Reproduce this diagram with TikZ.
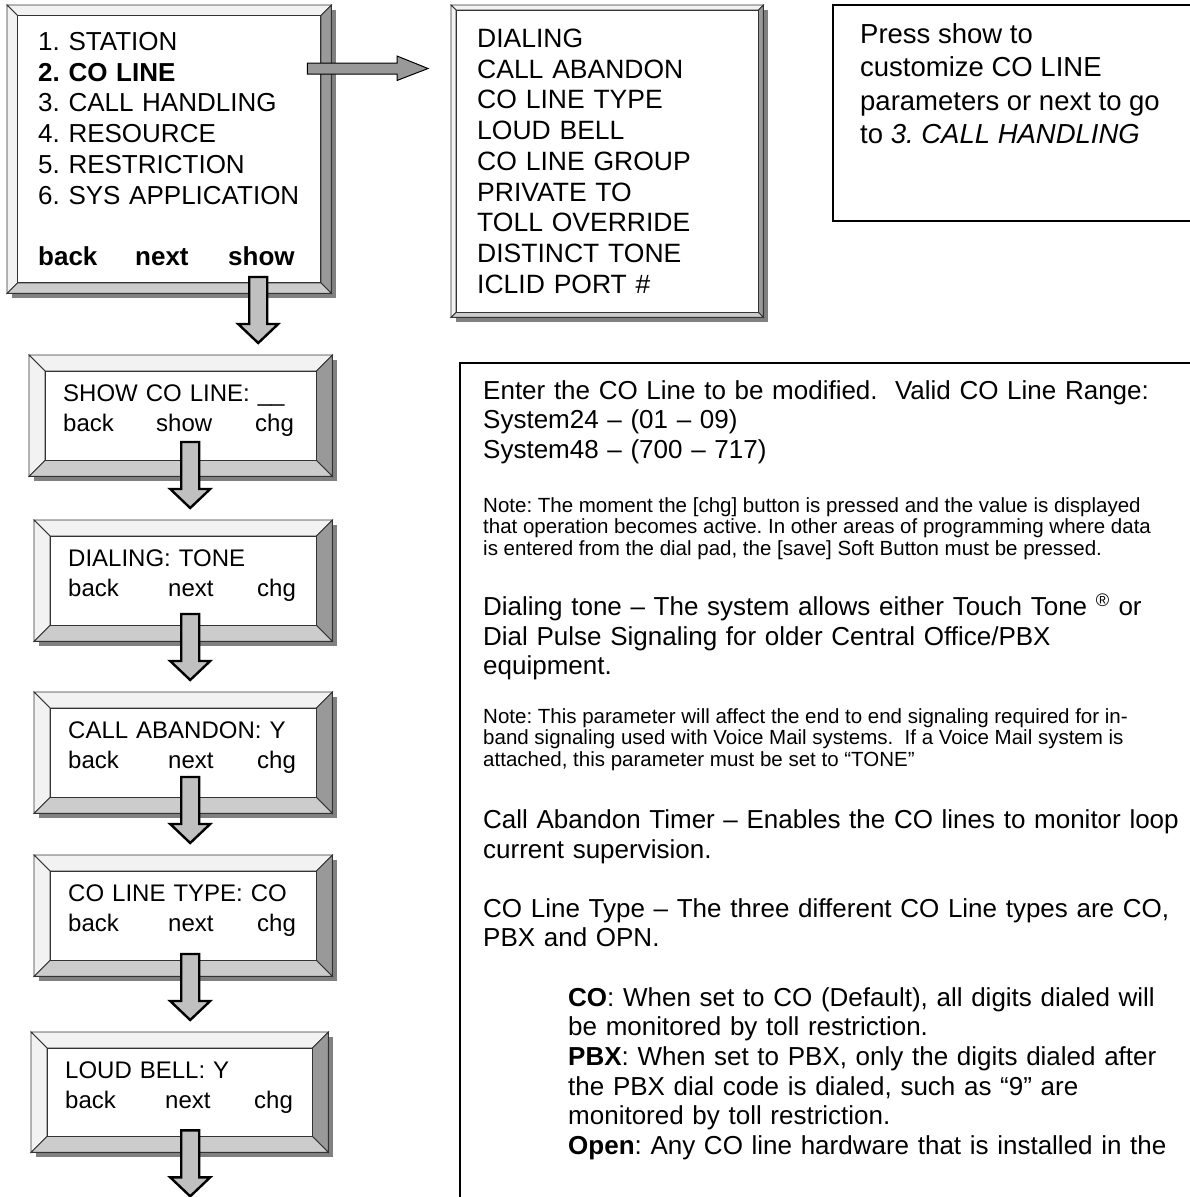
\documentclass[tikz,border=0pt]{standalone}
\usepackage{fontspec}
\setmainfont{Liberation Sans}
\usetikzlibrary{calc,backgrounds}
\frenchspacing
\definecolor{bevellight}{HTML}{F2F2F2}
\definecolor{bevelmid}{HTML}{CCCCCC}
\definecolor{beveldark}{HTML}{999999}
\definecolor{shadowgray}{HTML}{808080}
\definecolor{arrowgray}{HTML}{C0C0C0}
\definecolor{pointergray}{HTML}{999999}
\newcommand\rigidspace{\spaceskip=\fontdimen2\font plus 0pt minus 0pt\relax}
\newcommand\mainfont{\fontsize{26}{29.6}\selectfont\rigidspace}
\newcommand\notefont{\fontsize{20.5}{21.5}\selectfont\rigidspace}
\newcommand\softkeys[3]{\makebox[#1][l]{back}\makebox[#2][l]{#3}chg\rule[-15pt]{0pt}{15pt}}
\tikzset{
  frameline/.style={draw=black!80,line width=0.9pt},
  menubox/.style={anchor=north west,inner xsep=31pt,inner ysep=0pt,text width=262pt,
                  minimum height=288pt,align=left,font=\fontsize{26}{30.8}\selectfont},
  listbox/.style={anchor=north west,inner xsep=26pt,inner ysep=0pt,text width=260pt,
                  minimum height=312pt,align=left,font=\fontsize{26.5}{30.75}\selectfont},
  lcdbox/.style={anchor=north west,inner xsep=34pt,inner ysep=0pt,minimum height=121pt,
                 align=left,font=\fontsize{24}{30}\selectfont},
  downarr/.style={draw=black,line width=2.4pt,fill=arrowgray},
  sidearr/.style={draw=black,line width=1pt,fill=pointergray},
  textframe/.style={draw=black,line width=2pt},
  presstext/.style={anchor=north west,inner sep=0pt,align=left,
                    font=\fontsize{27.5}{33.5}\selectfont},
  bodytext/.style={anchor=north west,inner sep=0pt,text width=760pt,align=left,
                   font=\mainfont},
}
% raised frame with drop shadow round a node: #1 node, #2 bevel, #3 shadow
\newcommand\bevelframe[3]{%
  \begin{scope}[on background layer]
    \fill[shadowgray] ($(#1.south west)+(#3pt,-#3pt)$) rectangle ($(#1.north east)+(#3pt,-#3pt)$);
    \coordinate (#1-nw) at ($(#1.north west)+(#2pt,-#2pt)$);
    \coordinate (#1-ne) at ($(#1.north east)+(-#2pt,-#2pt)$);
    \coordinate (#1-se) at ($(#1.south east)+(-#2pt,#2pt)$);
    \coordinate (#1-sw) at ($(#1.south west)+(#2pt,#2pt)$);
    \filldraw[frameline,fill=bevellight] (#1.north west) -- (#1.north east) -- (#1-ne) -- (#1-nw) -- cycle;
    \filldraw[frameline,fill=bevellight] (#1.north west) -- (#1-nw) -- (#1-sw) -- (#1.south west) -- cycle;
    \filldraw[frameline,fill=beveldark] (#1.north east) -- (#1.south east) -- (#1-se) -- (#1-ne) -- cycle;
    \filldraw[frameline,fill=bevelmid] (#1.south west) -- (#1.south east) -- (#1-se) -- (#1-sw) -- cycle;
    \filldraw[frameline,fill=white] (#1-nw) rectangle (#1-se);
  \end{scope}}
% fat arrow down: #1 from, #2 to, #3 x offset
\newcommand\blockdown[3]{%
  \draw[downarr] let \p1=(#1.south), \p2=(#2.north) in
    (\x1+#3pt-9pt,\y2+78pt) -- (\x1+#3pt+9pt,\y2+78pt) -- (\x1+#3pt+9pt,\y2+31pt)
    -- (\x1+#3pt+20pt,\y2+31pt) -- (\x1+#3pt,\y2+12pt) -- (\x1+#3pt-20pt,\y2+31pt)
    -- (\x1+#3pt-9pt,\y2+31pt) -- cycle;}
\begin{document}
\begin{tikzpicture}[x=1pt,y=1pt]
\useasboundingbox (0,0) rectangle (1190,-1197);

\node[menubox] (menu) at (7,-5) {1. STATION\\\textbf{2. CO LINE}\\3. CALL HANDLING\\
  4. RESOURCE\\5. RESTRICTION\\\mbox{6. SYS APPLICATION}\\[30.8pt]
  \textbf{\makebox[97pt][l]{back}\makebox[93pt][l]{next}show}};
\node[listbox] (params) at (451,-5) {DIALING\\CALL ABANDON\\CO LINE TYPE\\LOUD BELL\\
  CO LINE GROUP\\PRIVATE TO\\TOLL OVERRIDE\\DISTINCT TONE\\ICLID PORT \#};

\node[lcdbox,text width=235pt] (showln)   at (29,-355)  {SHOW CO LINE: \_\_\\\softkeys{93pt}{99pt}{show}};
\node[lcdbox,text width=230pt] (dialing)  at (34,-520)  {DIALING: TONE\\\softkeys{100pt}{89pt}{next}};
\node[lcdbox,text width=230pt] (abandon)  at (34,-692)  {CALL ABANDON: Y\\\softkeys{100pt}{89pt}{next}};
\node[lcdbox,text width=230pt] (cotype)   at (34,-855)  {CO LINE TYPE: CO\\\softkeys{100pt}{89pt}{next}};
\node[lcdbox,text width=229pt,minimum height=120pt] (loudbell) at (31,-1032) {LOUD BELL: Y\\\softkeys{100pt}{89pt}{next}};
\node[inner sep=0pt] (more) at (190,-1209) {};

\bevelframe{menu}{10.5}{5}
\bevelframe{params}{5}{5}
\bevelframe{showln}{16}{5}
\bevelframe{dialing}{16}{5}
\bevelframe{abandon}{16}{5}
\bevelframe{cotype}{16}{5}
\bevelframe{loudbell}{16}{5}

% connectors
\draw[sidearr] let \p1=(menu.north east), \p2=(params.north west) in
  (\x1-24pt,\y1-58pt) -- (\x2-54pt,\y1-58pt) -- (\x2-54pt,\y1-51pt) -- (\x2-23pt,\y1-63.5pt)
  -- (\x2-54pt,\y1-75.5pt) -- (\x2-54pt,\y1-69pt) -- (\x1-24pt,\y1-69pt) -- cycle;
\blockdown{menu}{showln}{89}
\blockdown{showln}{dialing}{9.5}
\blockdown{dialing}{abandon}{7}
\blockdown{abandon}{cotype}{7}
\blockdown{cotype}{loudbell}{7}
\blockdown{loudbell}{more}{10.5}

% help texts
\node[presstext] (presstxt) at (860,-23) {Press show to\\customize CO LINE\\
  parameters or next to go\\to \textit{3. CALL HANDLING}};
\draw[textframe] (833,-5) rectangle (1200,-221);

\node[bodytext] (bodytxt) at (483,-380) {\parindent=0pt\rightskip=0pt plus 1fill\relax
Enter the CO Line to be modified.\ \ Valid CO Line Range:\\
System24 – (01 – 09)\\
System48 – (700 – 717)\par
\vspace{32.4pt}
{\notefont Note: The moment the [chg] button is pressed and the value is displayed\\
that operation becomes active. In other areas of programming where data\\
is entered from the dial pad, the [save] Soft Button must be pressed.\par}
\vspace{30.7pt}
Dialing tone – The system allows either Touch Tone \textsuperscript{®} or\\
Dial Pulse Signaling for older Central Office/PBX\\
equipment.\par
\vspace{27.1pt}
{\notefont Note: This parameter will affect the end to end signaling required for in-\\
band signaling used with Voice Mail systems.\ \ If a Voice Mail system is\\
attached, this parameter must be set to “TONE”\par}
\vspace{32.6pt}
Call Abandon Timer – Enables the CO lines to monitor loop\\
current supervision.\par
\vspace{29.7pt}
CO Line Type – The three different CO Line types are CO,\\
PBX and OPN.\par
\vspace{29.7pt}
{\leftskip=85pt
\textbf{CO}: When set to CO (Default), all digits dialed will\\
be monitored by toll restriction.\\
\textbf{PBX}: When set to PBX, only the digits dialed after\\
the PBX dial code is dialed, such as “9” are\\
monitored by toll restriction.\\
\textbf{Open}: Any CO line hardware that is installed in the\par}
};
\draw[textframe] (460,-363) rectangle (1200,-1215);
\end{tikzpicture}
\end{document}
